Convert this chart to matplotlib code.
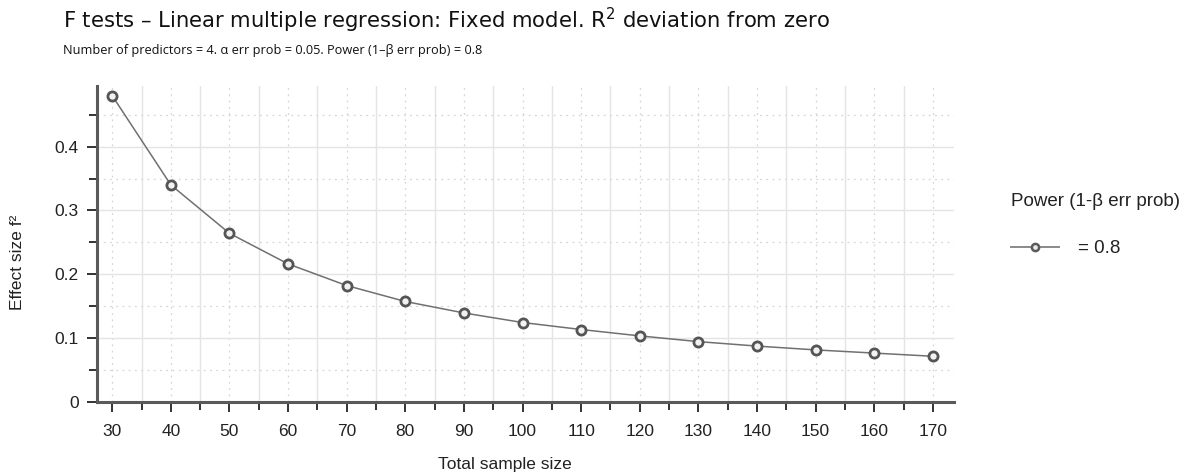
import numpy as np
import matplotlib
matplotlib.use("Agg")
import matplotlib.pyplot as plt
from matplotlib.ticker import MultipleLocator
from matplotlib.lines import Line2D

# data
sample_size = [30, 40, 50, 60, 70, 80, 90, 100, 110, 120, 130, 140, 150, 160, 170]
effect_size = [0.480, 0.340, 0.264, 0.216, 0.182, 0.157, 0.139, 0.124,
               0.113, 0.103, 0.094, 0.087, 0.081, 0.076, 0.071]
y_ticks = [0, 0.1, 0.2, 0.3, 0.4]
y_ticklabels = ['0', '0.1', '0.2', '0.3', '0.4']
legend_title = "Power (1-\u03b2 err prob)"
legend_label = "= 0.8"

plt.rcParams['font.family'] = ['Liberation Sans', 'DejaVu Sans']

W, H = 1199, 474
fig = plt.figure(figsize=(W / 100, H / 100), dpi=100)
ax = fig.add_axes([97 / W, 1 - 401.5 / H, (954 - 97) / W, (401.5 - 86) / H])

ax.plot(sample_size, effect_size, color='#707070', lw=1.1,
        marker='o', ms=6.6, mfc='#f2f2f2', mec='#555555', mew=2.0, zorder=3)

ax.set_xlim(27.4, 173.6)
ax.set_ylim(0, 0.4953)
ax.xaxis.set_major_locator(MultipleLocator(10))
ax.xaxis.set_minor_locator(MultipleLocator(5))
ax.set_yticks(y_ticks)
ax.set_yticklabels(y_ticklabels)
ax.yaxis.set_minor_locator(MultipleLocator(0.05))

# x: dotted at labelled ticks, solid in between; y: solid major, dotted minor
ax.xaxis.grid(True, which='major', color='#d6d6d6', lw=0.9, ls=(0, (1.5, 3.5)))
ax.xaxis.grid(True, which='minor', color='#e4e4e4', lw=1.0, ls='-')
ax.yaxis.grid(True, which='major', color='#e4e4e4', lw=1.0, ls='-')
ax.yaxis.grid(True, which='minor', color='#d6d6d6', lw=0.9, ls=(0, (1.5, 3.5)))
ax.set_axisbelow(True)

for s in ['top', 'right']:
    ax.spines[s].set_visible(False)
for s in ['left', 'bottom']:
    ax.spines[s].set_color('#5a5a5a')
    ax.spines[s].set_linewidth(2.2)

ax.tick_params(which='major', direction='out', color='#333333', width=1.4,
               length=7, labelsize=12.5, labelcolor='#222222', pad=6)
ax.tick_params(which='minor', direction='out', color='#333333', width=1.4,
               length=5.5)
ax.tick_params(axis='x', which='major', pad=9)

ax.set_xlabel("Total sample size", fontsize=12.5, color='#222222')
ax.xaxis.set_label_coords((505 - 97) / (954 - 97), -(465 - 401.5) / (401.5 - 86))
ax.xaxis.label.set_va('center')
ax.set_ylabel("Effect size f\u00b2", fontsize=12.5, color='#222222')
ax.yaxis.set_label_coords(-(97 - 18) / (954 - 97), (401.5 - 262) / (401.5 - 86))
ax.yaxis.label.set_va('center')

fig.text(63 / W, 1 - 28 / H,
         "F tests \u2013 Linear multiple regression: Fixed model. R$^2$ deviation from zero",
         fontsize=15.2, family=['DejaVu Sans'], va='baseline', color='#111111')
fig.text(63 / W, 1 - 54 / H,
         "Number of predictors = 4. \u03b1 err prob = 0.05. Power (1\u2013\u03b2 err prob) = 0.8",
         fontsize=9.2, family=['Open Sans', 'DejaVu Sans'], va='baseline', color='#111111')

# legend on the right
handle = Line2D([], [], color='#8a8a8a', lw=1.4, marker='o', ms=5.2,
                mfc='#e8e8e8', mec='#5a5a5a', mew=1.8)
leg = fig.legend([handle], [legend_label], title=legend_title,
                 loc='upper left', bbox_to_anchor=(1011 / W, 1 - 193 / H),
                 frameon=False, fontsize=13.5, title_fontsize=13.5,
                 handlelength=2.55, handletextpad=1.05, borderaxespad=0,
                 borderpad=0, labelspacing=1.6)
leg._legend_box.align = 'left'
leg.get_title().set_color('#222222')
for t in leg.get_texts():
    t.set_color('#222222')

fig.savefig("out.png", dpi=100)
